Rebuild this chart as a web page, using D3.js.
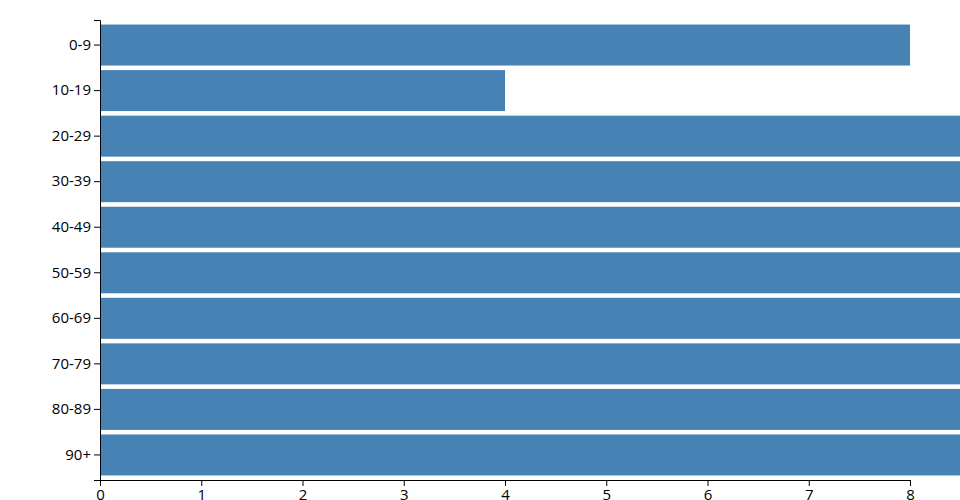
<!DOCTYPE html>
<html>
<head>
<meta charset="utf-8">
<script src="https://cdn.jsdelivr.net/npm/d3@7"></script>
<style>
  html, body { margin: 0; padding: 0; background: #fff; overflow: hidden; }
  svg { display: block; overflow: visible; }
</style>
</head>
<body>
<svg id="chart" width="960" height="500"></svg>
<script>
const categories = ["0-9", "10-19", "20-29", "30-39", "40-49", "50-59", "60-69", "70-79", "80-89", "90+"];
const values = [8, 4, 12, 12, 12, 12, 12, 12, 12, 12];
const xDomain = [0, 8];
const xTicks = [0, 1, 2, 3, 4, 5, 6, 7, 8];

const margin = { top: 20, right: 50, bottom: 20, left: 100 };
const width = 960 - margin.left - margin.right;
const height = 500 - margin.top - margin.bottom;

const svg = d3.select("#chart");
const g = svg.append("g").attr("transform", `translate(${margin.left},${margin.top})`);

const x = d3.scaleLinear().domain(xDomain).range([0, width]);
const y = d3.scaleBand().domain(categories).range([0, height]).padding(0.1);

g.selectAll("rect.bar")
  .data(categories.map((c, i) => ({ c, v: values[i] })))
  .join("rect")
  .attr("class", "bar")
  .attr("x", 0)
  .attr("y", d => y(d.c))
  .attr("width", d => x(d.v))
  .attr("height", y.bandwidth())
  .attr("fill", "steelblue");

g.append("g")
  .attr("class", "axis")
  .call(d3.axisLeft(y))
  .selectAll("text").style("font-family", "'Open Sans', sans-serif").style("font-size", "15px");

g.append("g")
  .attr("class", "axis")
  .attr("transform", `translate(0,${height})`)
  .call(d3.axisBottom(x).tickValues(xTicks).tickFormat(d3.format("d")))
  .selectAll("text").style("font-family", "'Open Sans', sans-serif").style("font-size", "15px");
</script>
</body>
</html>
